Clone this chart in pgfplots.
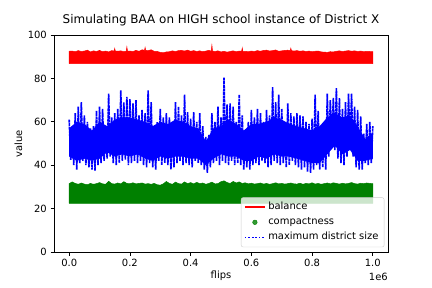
\documentclass[border=0pt]{standalone}
\usepackage{fontspec}
\setmainfont{DejaVu Sans}
\usepackage{pgfplots}
\pgfplotsset{compat=1.18}
\definecolor{mplred}{RGB}{255,0,0}
\definecolor{mplgreen}{RGB}{0,128,0}
\definecolor{mplblue}{RGB}{0,0,255}
\begin{document}
\begin{tikzpicture}
\useasboundingbox (0,0) rectangle (432bp,288bp);
\begin{axis}[
  at={(54bp,36bp)}, anchor=south west,
  width=334bp, height=217bp, scale only axis,
  clip mode=individual,
  xmin=-0.05, xmax=1.05, ymin=0, ymax=100,
  xtick={0,0.2,0.4,0.6,0.8,1.0},
  xticklabels={0.0,0.2,0.4,0.6,0.8,1.0},
  ytick={0,20,40,60,80,100},
  tick align=outside, major tick length=3.5bp,
  xtick pos=left, ytick pos=left,
  every tick/.style={black, line width=0.8bp},
  axis line style={line width=0.8bp},
  /pgf/number format/assume math mode=true,
  ticklabel style={font=\fontsize{10}{12}\selectfont},
  xticklabel style={inner sep=0pt, anchor=north, yshift=-3.5bp},
  yticklabel style={inner sep=0pt, anchor=east, xshift=-3.5bp},
  title={Simulating BAA on HIGH school instance of District X},
  title style={font=\fontsize{12}{14}\selectfont, at={(axis description cs:0.5,1.0276)}, anchor=base, inner sep=0pt},
  xlabel={flips},
  xlabel style={font=\fontsize{10}{12}\selectfont, at={(axis description cs:0.5,-0.1244)}, anchor=base, inner sep=0pt},
  ylabel={value},
  ylabel style={font=\fontsize{10}{12}\selectfont, at={(axis description cs:-0.0958,0.5)}, anchor=base, inner sep=0pt},
  legend cell align=left,
  legend image code/.code={\draw[mark repeat=2,mark phase=2,#1] plot coordinates {(0bp,0bp) (10bp,0bp) (20bp,0bp)};},
  legend style={at={(0.989,0.022)}, anchor=south east, draw={rgb,255:red,204;green,204;blue,204}, fill=white, fill opacity=0.8, text opacity=1, draw opacity=1, rounded corners=2bp, font=\fontsize{10}{12}\selectfont, nodes={text height=7.5pt, text depth=2.5pt, inner sep=2.6pt}},
]
% balance
\addplot[draw=mplred, fill=mplred, line width=0.5bp, forget plot] coordinates {
(0.00,86.8) (0.00,92.5) (0.01,92.6) (0.02,92.3) (0.03,92.8) (0.04,92.4) (0.05,92.6) (0.06,93.0) (0.07,92.2) (0.08,92.7) (0.09,92.4)
(0.10,92.9) (0.11,92.3) (0.12,92.6) (0.13,92.2) (0.14,92.8) (0.148,92.6) (0.15,93.8) (0.152,92.6) (0.16,92.5) (0.17,92.7) (0.18,92.3) (0.188,92.6) (0.19,94.5) (0.192,92.6)
(0.20,92.6) (0.21,92.4) (0.22,92.9) (0.23,92.5) (0.24,93.2) (0.248,92.9) (0.25,94.3) (0.252,92.9) (0.26,92.8) (0.27,93.2) (0.28,92.5) (0.29,92.4)
(0.30,92.0) (0.31,91.8) (0.32,92.2) (0.33,92.3) (0.34,92.7) (0.35,92.4) (0.36,92.8) (0.37,92.9) (0.38,92.6) (0.39,93.0)
(0.40,92.5) (0.41,92.8) (0.42,92.4) (0.43,92.7) (0.44,92.3) (0.45,92.6) (0.46,92.9) (0.468,92.6) (0.47,95.3) (0.472,92.6) (0.48,92.4) (0.49,92.7)
(0.50,92.2) (0.51,92.5) (0.52,92.1) (0.53,92.4) (0.54,92.7) (0.55,92.3) (0.56,92.6) (0.568,92.5) (0.57,94.0) (0.572,92.5) (0.58,92.5) (0.59,92.3)
(0.60,92.6) (0.61,92.4) (0.62,92.8) (0.63,92.5) (0.64,92.9) (0.65,93.0) (0.66,92.6) (0.67,92.8) (0.68,93.1) (0.69,92.5)
(0.70,92.7) (0.71,92.9) (0.72,93.0) (0.728,92.8) (0.73,93.9) (0.732,92.8) (0.74,92.6) (0.75,92.8) (0.76,92.5) (0.77,92.7) (0.78,92.4) (0.79,92.6)
(0.80,92.3) (0.81,92.5) (0.82,92.6) (0.83,92.2) (0.84,92.1) (0.85,92.0) (0.86,92.3) (0.87,92.2) (0.88,92.5) (0.89,92.7)
(0.90,92.4) (0.91,92.6) (0.92,92.8) (0.93,92.5) (0.94,92.7) (0.95,92.4) (0.96,92.6) (0.97,92.3) (0.98,92.5) (0.99,92.4)
(1.00,92.3) (1.00,86.8) (0.00,86.8)
};
% compactness
\addplot[draw=mplgreen, fill=mplgreen, line width=0.5bp, forget plot] coordinates {
(0.00,22.4) (0.00,31.5) (0.01,32.3) (0.02,31.6) (0.03,31.2) (0.04,31.8) (0.05,31.3) (0.06,31.0) (0.07,31.6) (0.08,31.2) (0.09,31.5)
(0.10,32.0) (0.11,31.4) (0.12,31.2) (0.13,32.6) (0.14,31.5) (0.15,31.3) (0.16,31.8) (0.17,31.4) (0.18,32.4) (0.19,31.6)
(0.20,31.5) (0.21,31.9) (0.22,31.4) (0.23,31.6) (0.24,31.8) (0.25,31.3) (0.26,31.5) (0.27,31.2) (0.28,31.6) (0.29,31.0)
(0.30,30.8) (0.31,31.4) (0.32,32.5) (0.33,31.6) (0.34,31.2) (0.35,32.2) (0.36,31.5) (0.37,31.3) (0.38,32.3) (0.39,31.5)
(0.40,32.0) (0.41,31.4) (0.42,32.1) (0.43,31.5) (0.44,31.8) (0.45,31.2) (0.46,31.6) (0.47,32.2) (0.48,31.4) (0.49,31.5)
(0.50,32.4) (0.51,32.8) (0.52,32.0) (0.53,31.6) (0.54,32.5) (0.55,31.8) (0.56,32.3) (0.57,31.6) (0.58,31.9) (0.59,31.4)
(0.60,31.7) (0.61,31.3) (0.62,31.5) (0.63,31.8) (0.64,31.3) (0.65,31.6) (0.66,31.2) (0.67,31.5) (0.68,31.9) (0.69,31.4)
(0.70,31.6) (0.71,31.3) (0.72,31.5) (0.73,31.8) (0.74,31.4) (0.75,31.3) (0.76,31.7) (0.77,31.2) (0.78,31.6) (0.79,31.4)
(0.80,31.9) (0.81,31.3) (0.82,31.6) (0.83,31.2) (0.84,31.5) (0.85,31.8) (0.86,31.4) (0.87,31.9) (0.88,31.6) (0.89,31.3)
(0.90,31.7) (0.91,31.4) (0.92,31.6) (0.93,32.0) (0.94,31.5) (0.95,31.3) (0.96,31.7) (0.97,31.5) (0.98,31.8) (0.99,31.6)
(1.00,31.5) (1.00,22.4) (0.00,22.4)
};
% maximum district size: dense core
\addplot[draw=none, fill=mplblue, forget plot] coordinates {
(0.00,44) (0.00,57) (0.025,60) (0.05,59) (0.075,56) (0.10,60) (0.125,58) (0.15,61) (0.175,62) (0.20,62) (0.225,61) (0.25,60) (0.275,58) (0.30,60) (0.325,59) (0.35,61) (0.375,60) (0.40,58) (0.425,57) (0.45,51) (0.475,57) (0.50,58)
(0.525,61) (0.55,59) (0.575,56) (0.60,59) (0.625,59) (0.65,60) (0.675,62) (0.70,61) (0.725,59) (0.75,58) (0.775,57) (0.80,56) (0.825,58) (0.85,62) (0.875,64) (0.90,62) (0.925,63) (0.95,58) (0.975,52) (1.00,55)
(1.00,43) (0.975,42) (0.95,42) (0.925,47) (0.90,45) (0.875,49) (0.85,45) (0.825,41) (0.80,41) (0.775,42) (0.75,43) (0.725,44) (0.70,44) (0.675,45) (0.65,43) (0.625,44) (0.60,42) (0.575,42) (0.55,44) (0.525,44) (0.50,45)
(0.475,43) (0.45,40) (0.425,43) (0.40,43) (0.375,44) (0.35,44) (0.325,43) (0.30,44) (0.275,42) (0.25,43) (0.225,45) (0.20,44) (0.175,45) (0.15,44) (0.125,46) (0.10,43) (0.075,42) (0.05,43) (0.025,42) (0.00,44)
};
% maximum district size
\addplot[draw=mplblue, line width=1.6bp, dash pattern=on 3bp off 0.6bp, forget plot] coordinates {
(0.000,61) (0.005,42.5) (0.010,58) (0.015,40) (0.020,64) (0.025,38) (0.030,67) (0.035,41) (0.040,69) (0.045,42) (0.050,63) (0.055,40) (0.060,60) (0.065,39) (0.070,57) (0.075,38) (0.080,58) (0.085,37.5) (0.090,65) (0.095,40)
(0.100,67) (0.105,41) (0.110,66) (0.115,42) (0.120,58) (0.125,43) (0.130,73) (0.135,44) (0.140,62) (0.145,41) (0.150,64) (0.155,40) (0.160,66) (0.165,41) (0.170,74.5) (0.175,42) (0.180,69) (0.185,42.5) (0.190,71.5) (0.195,40)
(0.200,70.5) (0.205,41) (0.210,68.5) (0.215,42) (0.220,70) (0.225,41) (0.230,63) (0.235,42) (0.240,65.5) (0.245,40) (0.250,64) (0.255,39) (0.260,74.5) (0.265,41) (0.270,69) (0.275,39) (0.280,53) (0.285,38) (0.290,60) (0.295,42)
(0.300,66) (0.305,40) (0.310,62) (0.315,41) (0.320,64) (0.325,40) (0.330,62) (0.335,38) (0.340,57) (0.345,39) (0.350,69) (0.355,41) (0.360,67) (0.365,42) (0.370,63) (0.375,40) (0.380,72.5) (0.385,41) (0.390,64.5) (0.395,40)
(0.400,61.5) (0.405,39) (0.410,64.5) (0.415,42) (0.420,60) (0.425,41) (0.430,64) (0.435,40) (0.440,58) (0.445,38) (0.450,53) (0.455,36.5) (0.460,54) (0.465,39) (0.470,64) (0.475,41) (0.480,60) (0.485,42) (0.490,67) (0.495,40)
(0.500,62) (0.505,42) (0.510,80.5) (0.515,41) (0.520,68) (0.525,40) (0.530,68.5) (0.535,42) (0.540,67) (0.545,40) (0.550,60) (0.555,41) (0.560,72.5) (0.565,40) (0.570,63) (0.575,38) (0.580,56) (0.585,39) (0.590,60) (0.595,38)
(0.600,65.5) (0.605,40) (0.610,62) (0.615,41) (0.620,66) (0.625,40) (0.630,64) (0.635,42) (0.640,60) (0.645,41) (0.650,65.5) (0.655,39) (0.660,63) (0.665,40) (0.670,76) (0.675,42) (0.680,69) (0.685,41) (0.690,72.5) (0.695,40)
(0.700,66) (0.705,41) (0.710,59) (0.715,39) (0.720,68.5) (0.725,40) (0.730,64) (0.735,42) (0.740,62.5) (0.745,40) (0.750,64) (0.755,39) (0.760,63) (0.765,38) (0.770,62.5) (0.775,39) (0.780,60) (0.785,37) (0.790,59) (0.795,36.5)
(0.800,61.5) (0.805,38) (0.810,72.5) (0.815,40) (0.820,65) (0.825,38) (0.830,57.5) (0.835,39) (0.840,58.5) (0.845,38) (0.850,73) (0.855,44) (0.860,70) (0.865,51) (0.870,71) (0.875,47) (0.880,75.5) (0.885,43) (0.890,71) (0.895,41)
(0.900,66) (0.905,40) (0.910,69) (0.915,44) (0.920,73) (0.925,48) (0.930,73) (0.935,44) (0.940,67) (0.945,39) (0.950,65.5) (0.955,38) (0.960,62.5) (0.965,38) (0.970,54.5) (0.975,41) (0.980,59) (0.985,40) (0.990,60) (0.995,41)
(1.000,58)
};
\addlegendimage{mplred, line width=1.5bp}
\addlegendentry{balance}
\addlegendimage{only marks, mark=*, mark size=2.3bp, mplgreen, mark options={draw=mplgreen, fill=mplgreen}}
\addlegendentry{compactness}
\addlegendimage{mplblue, line width=1.5bp, dash pattern=on 1.5bp off 2bp}
\addlegendentry{maximum district size}
\node[anchor=base east, inner sep=0pt, font=\fontsize{10}{12}\selectfont] at (rel axis cs:1,0) [yshift=-28.5bp] {1e6};
\end{axis}
\end{tikzpicture}
\end{document}
